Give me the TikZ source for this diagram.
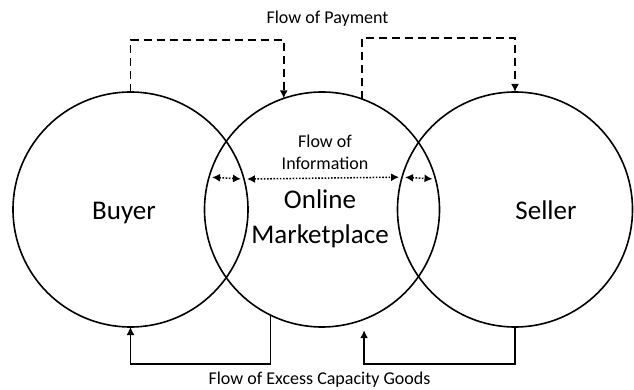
\documentclass[tikz,border=0pt]{standalone}
\usepackage{fontspec}
\setmainfont{Carlito}
\usetikzlibrary{arrows.meta}

\begin{document}
\begin{tikzpicture}[x=1pt, y=1pt,
				kreis/.style={draw, circle, line width=1.6pt, minimum size=235pt, inner sep=0pt, outer sep=0pt},
				zahlung/.style={->, line width=1.6pt, dash pattern=on 8pt off 5pt},
				info/.style={<->, line width=1.5pt, dash pattern=on 1.6pt off 1.6pt, shorten <=3pt, shorten >=3pt},
				ware/.style={->, line width=1.5pt},
				gross/.style={font=\fontsize{27}{35}\selectfont},
				>={Latex[length=8pt,width=8pt]},   %Voreinstellung für Pfeilspitzen
				font=\fontsize{18}{22}\selectfont]
				\useasboundingbox (0,0) rectangle (634,389);
				%Kreise zeichnen
				\node[kreis] (kaeufer) at (130.5,179.5) {};
				\node[kreis] (markt) at (322,179.5) {};
				\node[kreis] (verkaeufer) at (515,179.5) {};
				% Beschriftung der Kreise
				\node[gross, anchor=base] (tkaeufer) at (124,169.5) {Buyer};
				\node[gross, anchor=base] (tverkaeufer) at (546,169.5) {Seller};
				\node[gross, align=center] (tmarkt) at (320,170) {Online\\Marketplace};
				% Zahlungsfluss
				\draw[zahlung] (kaeufer.north) -- ([yshift=52pt]kaeufer.north) -| (markt.109);
				\draw[zahlung] (markt.70) |- ([yshift=54pt]verkaeufer.north) -- (verkaeufer.north);
				\node[anchor=base] (tzahlung) at (327.5,365) {Flow of Payment};
				% Informationsfluss
				\draw[info] (markt.164.5) -- (kaeufer.15.5);
				\draw[info] (kaeufer.15.5) -- (verkaeufer.164.5);
				\draw[info] (verkaeufer.164.5) -- (markt.15.5);
				\node[align=center] (tinfo) at (325,236.5) {Flow of\\Information};
				% Warenfluss
				\draw[ware] (markt.244) |- ([yshift=-37pt]kaeufer.south) -- (kaeufer.south);
				\draw[ware, shorten >=11pt] (verkaeufer.south) -- ([yshift=-37pt]verkaeufer.south) -| (markt.291);
				\node[anchor=base] (tware) at (319.5,5) {Flow of Excess Capacity Goods};
			\end{tikzpicture}
\end{document}
